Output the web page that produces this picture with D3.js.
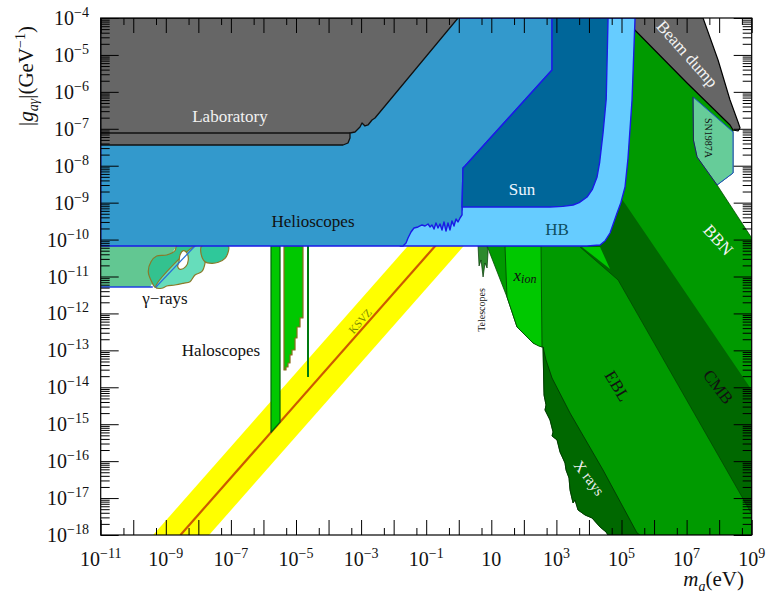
<!DOCTYPE html>
<html><head><meta charset="utf-8">
<script src="https://cdn.jsdelivr.net/npm/d3@7"></script>
<style>body{margin:0;background:#fff}svg{display:block}text{font-family:"Liberation Serif","DejaVu Serif",serif}</style>
</head><body>
<svg id="c" width="769" height="594"></svg>
<script>
// ---------- DATA: all points are [log10(m_a / eV), log10(|g| / GeV^-1)] ----------
const xMajorExps = d3.range(-11, 10);
const xLabelExps = [-11, -9, -7, -5, -3, -1, 1, 3, 5, 7, 9];
const yMajorExps = d3.range(-18, -3);
const yLabelExps = d3.range(-18, -3);

const laboratory = [[-11,-4],[-0.023,-4],[-2.573,-6.708],[-2.665,-6.762],[-2.788,-6.897],[-2.880,-6.924],[-2.972,-6.843],[-3.034,-6.952],[-3.187,-7.087],[-3.341,-7.114],[-3.341,-7.249],[-3.403,-7.385],[-3.556,-7.439],[-11,-7.439]];
const laboratoryStep = [[-11,-7.114],[-3.341,-7.114]];

const helioscopes = [[-11,-4],[2.866,-4],[2.866,-5.408],[0.193,-8.008],[0.131,-8.062],[0.101,-9.118],[0.101,-9.334],
  [0.039,-9.416],[-0.023,-9.524],[-0.084,-9.443],[-0.146,-9.632],[-0.207,-9.497],[-0.269,-9.740],[-0.330,-9.551],
  [-0.392,-9.770],[-0.453,-9.524],[-0.515,-9.741],[-0.576,-9.578],[-0.637,-9.687],[-0.699,-9.551],[-0.760,-9.714],
  [-0.822,-9.605],[-0.883,-9.659],[-0.944,-9.578],[-1.036,-9.632],[-1.129,-9.605],[-1.252,-9.659],[-1.375,-9.687],
  [-1.467,-9.795],[-1.559,-9.957],[-1.620,-10.093],[-1.713,-10.174],[-11,-10.174]];

const sun = [[0.193,-8.008],[2.866,-5.408],[2.866,-4],[4.587,-4],[4.53,-6.2],[4.433,-7.114],[4.33,-7.9],[4.249,-8.305],
  [4.10,-8.65],[3.942,-8.847],[3.70,-9.00],[3.511,-9.064],[3.20,-9.10],[2.804,-9.118],[0.101,-9.118],[0.131,-8.062]];

const hb = [[-1.8,-10.174],[3.942,-10.174],[4.341,-10.146],[4.50,-10.03],[4.648,-9.822],[4.864,-9.280],[4.98,-9.0],
  [5.109,-8.576],[5.20,-7.8],[5.324,-6.22],[5.416,-4],[0.1,-4],[0.1,-9.2],[-1.8,-9.2]];

const greenBase = [[0.870,-10.174],[1.482,-11.555],[1.790,-12.367],[2.281,-12.800],[2.558,-12.909],[2.589,-12.909],
  [2.620,-14.208],[2.681,-14.479],[2.650,-14.615],[2.804,-14.885],[2.897,-15.210],[2.866,-15.318],[3.020,-15.427],
  [3.112,-15.752],[3.265,-16.050],[3.296,-16.239],[3.388,-16.456],[3.419,-16.781],[3.511,-17.133],[3.572,-17.052],
  [3.665,-17.323],[3.880,-17.458],[4.095,-17.539],[4.341,-17.783],[4.525,-17.918],[4.587,-18],[9,-18],[9,-9.957],
  [7.935,-8.522],[8.427,-8.197],[8.427,-7.033],[8.580,-7.033],[8.334,-6.897],[7.014,-5.760],[5.048,-4],[4.5,-4],
  [4.5,-10.0],[0.870,-10.0]];

const xRays = [[2.589,-12.909],[2.620,-14.208],[2.681,-14.479],[2.650,-14.615],[2.804,-14.885],[2.897,-15.210],
  [2.866,-15.318],[3.020,-15.427],[3.112,-15.752],[3.265,-16.050],[3.296,-16.239],[3.388,-16.456],[3.419,-16.781],
  [3.511,-17.133],[3.572,-17.052],[3.665,-17.323],[3.880,-17.458],[4.095,-17.539],[4.341,-17.783],[4.525,-17.918],
  [4.587,-18],[5.570,-18],[5.478,-17.945],[4.433,-16.239],[3.419,-14.696],[2.866,-13.748],[2.681,-13.261]];

const xIon = [[1.421,-10.174],[1.482,-11.555],[1.790,-12.367],[2.281,-12.800],[2.450,-12.880],[2.558,-12.909],[2.527,-10.174]];

const telescopes = [[0.593,-10.174],[0.624,-10.715],[0.685,-10.553],[0.747,-11.013],[0.808,-10.634],[0.870,-10.770],[0.900,-10.337],[0.870,-10.174]];

const cmb = [[3.726,-10.201],[4.894,-11.094],[8.703,-16.970],[9,-17.431],[9,-14.073],[6.706,-11.094],[5.034,-8.928],[4.5,-9.5]];
const brightWedge = [[3.788,-10.201],[4.341,-10.201],[4.648,-10.797]];

const beamDump = [[5.048,-4],[7.505,-4],[7.966,-5.137],[8.334,-6.220],[8.580,-6.816],[8.642,-6.979],[8.580,-7.060],[8.427,-7.033],[8.334,-6.897],[7.014,-5.760]];

const sn1987a = [[7.198,-6.139],[8.427,-7.087],[8.427,-8.197],[7.935,-8.522],[7.321,-7.764],[7.210,-7.304]];

const gammaBase = [[-11,-10.174],[-8.665,-10.174],[-9.485,-11.284],[-11,-11.284]];
const gammaBlob = [[-8.665,-10.174],[-8.717,-10.301],[-8.972,-10.417],[-9.280,-10.445],[-9.455,-10.599],[-9.538,-10.870],[-9.433,-11.140],[-9.310,-11.292],[-8.103,-10.174]];
const gammaLight = [[-8.103,-10.174],[-9.310,-11.292],[-9.126,-11.319],[-8.972,-11.257],[-8.717,-11.230],[-8.462,-11.184],[-8.257,-11.140],[-8.103,-10.959],[-7.897,-10.870],[-7.796,-10.642],[-7.796,-10.417],[-7.897,-10.174]];
const gammaRound = [[-7.897,-10.174],[-7.919,-10.371],[-7.796,-10.599],[-7.590,-10.642],[-7.387,-10.615],[-7.181,-10.507],[-7.080,-10.328],[-7.080,-10.174]];
const gammaHole = [[-8.564,-10.417],[-8.462,-10.301],[-8.358,-10.355],[-8.309,-10.553],[-8.389,-10.734],[-8.564,-10.805],[-8.634,-10.734],[-8.594,-10.599]];
const gammaLine = [[-9.310,-11.292],[-8.103,-10.174]];

const haloA = [[-5.768,-10.174],[-5.491,-10.174],[-5.491,-14.941],[-5.768,-15.218]];
const haloB = [[-5.369,-10.174],[-4.785,-10.174],[-4.785,-12.123],[-4.877,-12.123],[-4.877,-12.367],[-4.969,-12.367],[-4.969,-12.665],
  [-5.030,-12.665],[-5.030,-12.990],[-5.123,-12.990],[-5.123,-13.125],[-5.184,-13.125],[-5.184,-13.342],[-5.246,-13.342],
  [-5.246,-13.450],[-5.307,-13.450],[-5.307,-13.531],[-5.369,-13.531]];
const haloC = [[-4.631,-10.174],[-4.631,-13.721]];

const ksvzLine = [[-8.55,-18],[0.0,-9.45]];
const ksvzBand = [[-9.39,-18],[-1.39,-10.0],[0.33,-10.0],[-7.67,-18]];

// ---------- DRAW ----------
const svg = d3.select("#c");
const x = d3.scaleLog().domain([1e-11, 1e9]).range([100.7, 751.7]);
const y = d3.scaleLog().domain([1e-18, 1e-4]).range([535, 18]);
const X = e => x(Math.pow(10, e)), Y = e => y(Math.pow(10, e));
const lineGen = d3.line().x(d => X(d[0])).y(d => Y(d[1]));

svg.append("defs").append("clipPath").attr("id", "clip").append("rect")
  .attr("x", 100.7).attr("y", 18).attr("width", 651).attr("height", 517);
const g = svg.append("g").attr("clip-path", "url(#clip)");

function poly(data, fill, stroke, sw, curve) {
  return g.append("path").attr("d", lineGen.curve(curve || d3.curveLinearClosed)(data))
    .attr("fill", fill).attr("stroke", stroke || "none").attr("stroke-width", sw || 1)
    .attr("stroke-linejoin", "round");
}
function pline(data, stroke, sw) {
  return g.append("path").attr("d", lineGen.curve(d3.curveLinear)(data))
    .attr("fill", "none").attr("stroke", stroke).attr("stroke-width", sw || 1);
}

// KSVZ
poly(ksvzBand, "#ffff00");
pline(ksvzLine, "#cc5a00", 2.2);

// green cosmology
poly(greenBase, "#009a00", "#004d00", 0.8);
poly(cmb, "#006800");
poly(brightWedge, "#00c800");
pline([[3.726,-10.201],[4.894,-11.094],[8.703,-16.970],[9,-17.431]], "#004400", 0.7);
poly(xRays, "#006800", "#003300", 0.8);
poly(xIon, "#00c800", "#004400", 0.8);
poly(telescopes, "#2d8a2d", "#003300", 0.7);
poly(sn1987a, "#66cc99", "#1f4fcf", 1);
pline([[7.198,-6.139],[7.210,-7.304],[7.321,-7.764],[7.935,-8.522]], "#222", 0.8);
poly(beamDump, "#666666", "#000", 1.2);

// haloscopes
poly(haloA, "#00c800", "#00660a", 1.2);
poly(haloB, "#00c800", "#8a6d1c", 1.2);
pline(haloC, "#007a10", 2);

// gamma rays
poly(gammaBase, "#62c792", "none");
poly(gammaBlob, "#33c28f", "#8a7a2a", 1.2, d3.curveCatmullRomClosed.alpha(0.5));
poly(gammaLight, "#66ddbb", "#8a7a2a", 1.2, d3.curveCatmullRomClosed.alpha(0.5));
poly(gammaRound, "#2fc89a", "#8a7a2a", 1.2, d3.curveCatmullRomClosed.alpha(0.5));
poly(gammaHole, "#ffffff", "#8a7a2a", 1.2, d3.curveCatmullRomClosed.alpha(0.5));
pline(gammaLine, "#2a6fd6", 1.2);
pline([[-11,-11.284],[-9.4,-11.284]], "#1f3fe0", 1.5);

// helioscopes, sun, HB
poly(hb, "#66ccff", "#1a1ae6", 1.4);
poly(helioscopes, "#3399cc", "#1a1ae6", 1.4);
poly(sun, "#006699", "#1a1ae6", 1.4);
poly(laboratory, "#666666", "#111", 1.3);
pline(laboratoryStep, "#111", 1.3);

// ---------- AXES ----------
const axesG = svg.append("g");
function addAxis(axis, tr) {
  axesG.append("g").attr("transform", tr).call(axis).call(s => s.select(".domain").remove())
    .selectAll("line").attr("stroke", "#000").attr("stroke-width", 1);
}
const xMaj = xMajorExps.map(e => Math.pow(10, e));
const xMin = d3.range(-11, 9).map(e => 5 * Math.pow(10, e));
const yMaj = yMajorExps.map(e => Math.pow(10, e));
const yMin = [];
d3.range(-18, -4).forEach(e => { for (let k = 2; k <= 9; k++) yMin.push(k * Math.pow(10, e)); });

addAxis(d3.axisBottom(x).tickValues(xMaj).tickSize(-15).tickFormat(""), "translate(0,535)");
addAxis(d3.axisBottom(x).tickValues(xMin).tickSize(-7).tickFormat(""), "translate(0,535)");
addAxis(d3.axisTop(x).tickValues(xMaj).tickSize(-15).tickFormat(""), "translate(0,18)");
addAxis(d3.axisTop(x).tickValues(xMin).tickSize(-7).tickFormat(""), "translate(0,18)");
addAxis(d3.axisLeft(y).tickValues(yMaj).tickSize(-18).tickFormat(""), "translate(100.7,0)");
addAxis(d3.axisLeft(y).tickValues(yMin).tickSize(-9).tickFormat(""), "translate(100.7,0)");
addAxis(d3.axisRight(y).tickValues(yMaj).tickSize(-18).tickFormat(""), "translate(751.7,0)");
addAxis(d3.axisRight(y).tickValues(yMin).tickSize(-9).tickFormat(""), "translate(751.7,0)");

axesG.append("rect").attr("x", 100.7).attr("y", 18).attr("width", 651).attr("height", 517)
  .attr("fill", "none").attr("stroke", "#000").attr("stroke-width", 1.2);

// tick labels
xLabelExps.forEach(e => {
  const t = axesG.append("text").attr("x", X(e)).attr("y", 566).attr("text-anchor", "middle")
    .attr("font-size", 20).attr("fill", "#111");
  t.append("tspan").text("10");
  if (e !== 1) t.append("tspan").attr("font-size", 14).attr("dy", -8).text(e < 0 ? "\u2212" + (-e) : e);
});
yLabelExps.forEach(e => {
  const t = axesG.append("text").attr("x", 89).attr("y", Y(e) + 7).attr("text-anchor", "end")
    .attr("font-size", 20).attr("fill", "#111");
  t.append("tspan").text("10");
  t.append("tspan").attr("font-size", 14).attr("dy", -8).text("\u2212" + (-e));
});

// axis titles
const yt = axesG.append("text").attr("transform", "translate(33,76) rotate(-90)").attr("text-anchor", "middle")
  .attr("font-size", 21).attr("fill", "#111");
yt.append("tspan").text("|");
yt.append("tspan").attr("font-style", "italic").text("g");
yt.append("tspan").attr("font-style", "italic").attr("font-size", 14).attr("dy", 5).text("a\u03b3");
yt.append("tspan").attr("dy", -5).text("|(GeV");
yt.append("tspan").attr("font-size", 14).attr("dy", -8).text("\u22121");
yt.append("tspan").attr("dy", 8).text(")");

const xt = axesG.append("text").attr("x", 744).attr("y", 586).attr("text-anchor", "end")
  .attr("font-size", 21).attr("fill", "#111");
xt.append("tspan").attr("font-style", "italic").text("m");
xt.append("tspan").attr("font-style", "italic").attr("font-size", 14).attr("dy", 5).text("a");
xt.append("tspan").attr("dy", -5).text("(eV)");

// region labels
const labG = svg.append("g");
function label(txt, lm, lg, opts) {
  const o = opts || {};
  const t = labG.append("text")
    .attr("transform", `translate(${X(lm)},${Y(lg)}) rotate(${o.rot || 0})`)
    .attr("text-anchor", "middle").attr("dominant-baseline", "central")
    .attr("font-size", o.size || 17).attr("fill", o.color || "#111");
  if (o.style) t.attr("font-style", o.style);
  t.text(txt);
  return t;
}
label("Laboratory", -7.028, -6.654, {color: "#f2f2f2"});
label("Helioscopes", -4.478, -9.524);
label("Sun", 1.943, -8.657, {color: "#eef6ff"});
label("HB", 3.018, -9.714, {color: "#0f4f5f"});
label("\u03b3\u2212rays", -9.025, -11.609);
label("Haloscopes", -7.304, -13.017);
label("Telescopes", 0.714, -11.907, {rot: -90, size: 10});
label("KSVZ", -3.034, -12.205, {rot: -48.5, size: 11, color: "#7a8a00"});
label("EBL", 4.864, -13.965, {rot: 59});
label("CMB", 7.966, -13.992, {rot: 53});
label("X rays", 4.002, -16.456, {rot: 53, size: 15, color: "#f0f0f0"});
label("BBN", 7.966, -10.011, {rot: 48, color: "#f4f4f4"});
label("Beam dump", 7.014, -4.975, {rot: 48.5, size: 17, color: "#f4f4f4"});
label("SN1987A", 7.659, -7.249, {rot: 90, size: 10});
const xi = labG.append("text").attr("transform", `translate(${X(2.035)},${Y(-10.959)})`)
  .attr("text-anchor", "middle").attr("dominant-baseline", "central").attr("font-size", 17).attr("fill", "#111")
  .attr("font-style", "italic");
xi.append("tspan").text("x");
xi.append("tspan").attr("font-size", 12).attr("dy", 4).text("ion");
</script>
</body></html>
